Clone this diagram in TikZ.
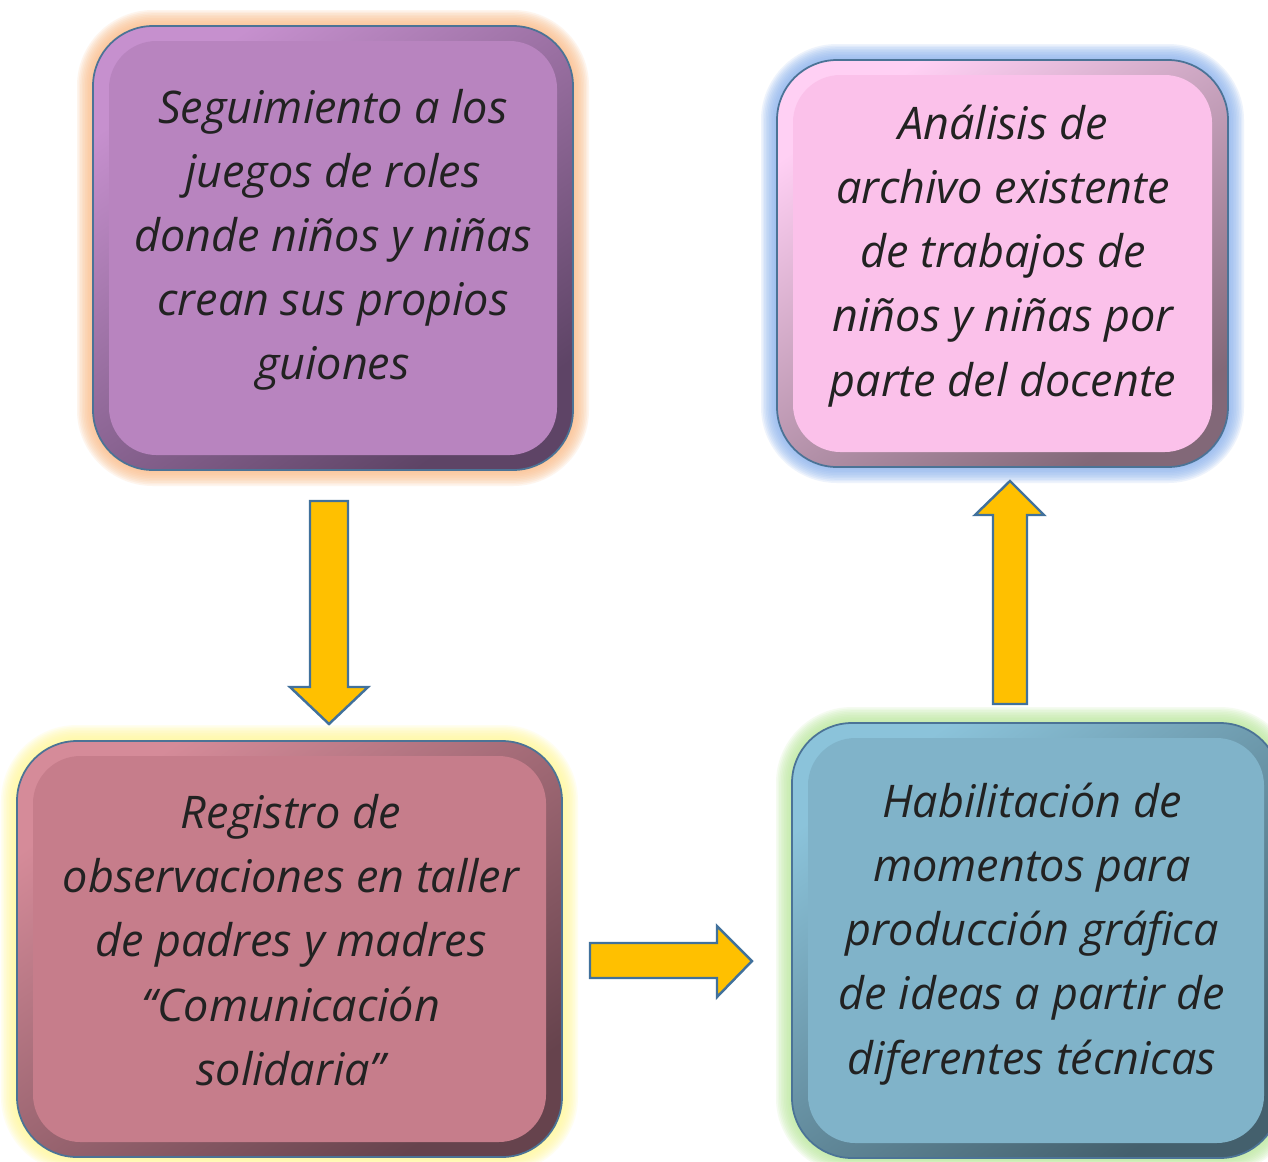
\documentclass[tikz,border=0pt]{standalone}
\usepackage{fontspec}
\setmainfont{Open Sans}
\usepackage{tikz}

\definecolor{borde}{HTML}{4B7396}
\definecolor{textgray}{HTML}{222222}
\definecolor{amarillo}{HTML}{FFC000}
\definecolor{azulflecha}{HTML}{41719C}
% purple box
\definecolor{morglow}{HTML}{FBBE8C}
\definecolor{mortop}{HTML}{C690CE}
\definecolor{mordark}{HTML}{5E4466}
\definecolor{morface}{HTML}{B884BF}
% pink box
\definecolor{rosglow}{HTML}{8EB4EF}
\definecolor{rostop}{HTML}{FFD0F4}
\definecolor{rosdark}{HTML}{826878}
\definecolor{rosface}{HTML}{FBC1EA}
% rose box
\definecolor{vinglow}{HTML}{FFF99B}
\definecolor{vintop}{HTML}{D58B99}
\definecolor{vindark}{HTML}{66434D}
\definecolor{vinface}{HTML}{C67D8B}
% blue box
\definecolor{celglow}{HTML}{BDEAA0}
\definecolor{celtop}{HTML}{8BC3DA}
\definecolor{celdark}{HTML}{44606D}
\definecolor{celface}{HTML}{80B3C9}

% box with glow, bevel and face: x1 y1 x2 y2 colour prefix
\newcommand{\caja}[5]{%
  \foreach \g [evaluate=\g as \r using 1.2+0.032*\g] in {1,...,10}
    \fill[#5glow, opacity=0.15, rounded corners=\r cm]
      ({#1-1.6*\g},{#2-1.6*\g}) rectangle ({#3+1.6*\g},{#4+1.6*\g});
  \draw[draw=borde, line width=1pt, rounded corners=1.2cm,
        top color=#5top, bottom color=#5dark, shading angle=35]
    (#1,#2) rectangle (#3,#4);
  \fill[#5face, rounded corners=0.95cm] ({#1+16},{#2+15}) rectangle ({#3-16},{#4-15});
}

\begin{document}
\begin{tikzpicture}[x=0.02cm, y=-0.02cm,
    texto/.style={align=center, text=textgray, inner sep=0pt,
      font=\itshape\fontsize{25.6}{36.5}\selectfont},
    blockarrow/.style={fill=amarillo, draw=azulflecha, line width=1.4pt, line join=miter}]
  \useasboundingbox (0,0) rectangle (1268,1161);
  \clip (0,0) rectangle (1268,1161);
  \fill[white] (0,0) rectangle (1268,1161);

  % boxes
  \caja{93}{26}{573}{470}{mor}
  \caja{777}{60}{1228}{467}{ros}
  \caja{17}{741}{562}{1157}{vin}
  \caja{792}{723}{1280}{1158}{cel}

  % texts
  \node[texto] (seg) at (333,240) {Seguimiento a los\\juegos de roles\\donde niños y niñas\\crean sus propios\\guiones};
  \node[texto] (ana) at (1003,256) {Análisis de\\archivo existente\\de trabajos de\\niños y niñas por\\parte del docente};
  \node[texto] (reg) at (291,940) {Registro de\\observaciones en taller\\de padres y madres\\“Comunicación\\solidaria”};
  \node[texto] (hab) at (1032,934) {Habilitación de\\momentos para\\producción gráfica\\de ideas a partir de\\diferentes técnicas};

  % arrows
  \draw[blockarrow] (310,501) -- (348,501) -- (348,687) -- (368,687) -- (329,724)
    -- (290,687) -- (310,687) -- cycle;
  \draw[blockarrow] (590,943) -- (717,943) -- (717,926) -- (752,961) -- (717,997)
    -- (717,978) -- (590,978) -- cycle;
  \draw[blockarrow] (993,704) -- (1027,704) -- (1027,515) -- (1044,515) -- (1010,481)
    -- (975,515) -- (993,515) -- cycle;
\end{tikzpicture}
\end{document}
